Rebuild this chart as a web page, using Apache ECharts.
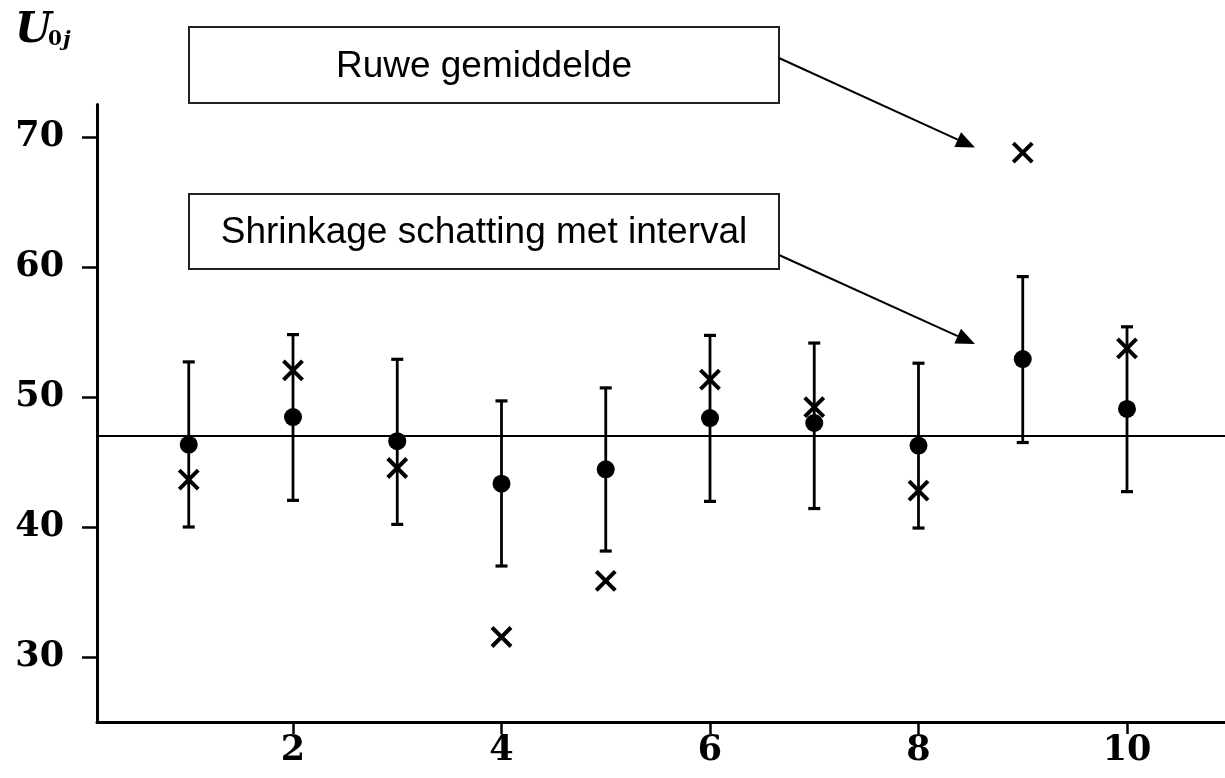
<!DOCTYPE html>
<html><head><meta charset="utf-8">
<script src="https://cdn.jsdelivr.net/npm/echarts@6/dist/echarts.min.js"></script>
<style>html,body{margin:0;padding:0;background:#fff}#c{width:1225px;height:778px}</style>
</head><body><div id="c"></div>
<script>
// ---- data ----
const groups    = [1, 2, 3, 4, 5, 6, 7, 8, 9, 10];
const shrinkage = [46.33, 48.46, 46.6, 43.33, 44.44, 48.38, 48.0, 46.26, 52.92, 49.08];
const rawMeans  = [43.64, 52.05, 44.54, 31.54, 35.85, 51.33, 49.22, 42.8, 68.8, 53.74];
const lowerCI   = [40.0, 42.05, 40.2, 37.0, 38.15, 41.97, 41.42, 39.92, 46.5, 42.72];
const upperCI   = [52.7, 54.8, 52.9, 49.7, 50.7, 54.74, 54.15, 52.6, 59.26, 55.4];
const grandMean = 47.0;
const xTicks = [2, 4, 6, 8, 10];
const yTicks = [30, 40, 50, 60, 70];
const labelRaw = 'Ruwe gemiddelde';
const labelShrink = 'Shrinkage schatting met interval';

const chart = echarts.init(document.getElementById('c'), null, {renderer: 'canvas'});
const tickFont = {fontFamily: 'DejaVu Serif', fontWeight: 'bold', fontSize: 35, color: '#000'};

function arrow(x1, y1, x2, y2) {
  const dx = x2 - x1, dy = y2 - y1, L = Math.hypot(dx, dy), ux = dx / L, uy = dy / L;
  const hl = 19, hw = 8;
  const bx = x2 - ux * hl, by = y2 - uy * hl;
  return [
    {type: 'line', shape: {x1: x1, y1: y1, x2: bx, y2: by}, style: {stroke: '#000', lineWidth: 2}},
    {type: 'polygon', shape: {points: [[x2, y2], [bx - uy * hw, by + ux * hw], [bx + uy * hw, by - ux * hw]]}, style: {fill: '#000'}}
  ];
}

function renderErr(params, api) {
  const x = api.value(0);
  const lo = api.coord([x, api.value(1)]);
  const hi = api.coord([x, api.value(2)]);
  const w = 6;
  const style = {stroke: '#000', lineWidth: 2.8};
  const cap = {stroke: '#000', lineWidth: 3.2};
  return {type: 'group', children: [
    {type: 'line', shape: {x1: lo[0], y1: lo[1], x2: hi[0], y2: hi[1]}, style: style},
    {type: 'line', shape: {x1: hi[0] - w, y1: hi[1], x2: hi[0] + w, y2: hi[1]}, style: cap},
    {type: 'line', shape: {x1: lo[0] - w, y1: lo[1], x2: lo[0] + w, y2: lo[1]}, style: cap}
  ]};
}

const option = {
  animation: false,
  backgroundColor: '#fff',
  grid: {left: 97, right: 0, top: 104.5, bottom: 56, outerBoundsMode: 'none'},
  xAxis: {
    type: 'value', min: 0.12, max: 10.94,
    splitLine: {show: false},
    axisLine: {onZero: false, lineStyle: {color: '#000', width: 3}},
    axisTick: {customValues: xTicks, length: 12, lineStyle: {color: '#000', width: 2.5}},
    axisLabel: Object.assign({customValues: xTicks, margin: 11}, tickFont)
  },
  yAxis: {
    type: 'value', min: 25, max: 72.5,
    splitLine: {show: false},
    axisLine: {show: true, onZero: false, lineStyle: {color: '#000', width: 3}},
    axisTick: {show: true, customValues: yTicks, length: 15, lineStyle: {color: '#000', width: 2.5}},
    axisLabel: Object.assign({customValues: yTicks, margin: 33, padding: [7, 0, 0, 0]}, tickFont)
  },
  series: [
    {
      type: 'custom', renderItem: renderErr, z: 2,
      encode: {x: 0, y: [1, 2]},
      data: groups.map((g, i) => [g, lowerCI[i], upperCI[i]]),
      markLine: {
        silent: true, symbol: 'none', label: {show: false},
        lineStyle: {color: '#000', width: 2, type: 'solid', opacity: 1},
        data: [{yAxis: grandMean}]
      }
    },
    {
      type: 'scatter', z: 3, symbol: 'circle', symbolSize: 18,
      itemStyle: {color: '#000', opacity: 1},
      data: groups.map((g, i) => [g, shrinkage[i]])
    },
    {
      type: 'scatter', z: 4, symbol: 'path://M0,0L10,10M10,0L0,10', symbolSize: 19,
      itemStyle: {color: 'none', borderColor: '#000', borderWidth: 4, opacity: 1},
      data: groups.map((g, i) => [g, rawMeans[i]])
    }
  ],
  graphic: [
    {type: 'text', left: 15, top: 10, style: {text: 'U', font: 'italic bold 42px "DejaVu Serif"', fill: '#000'}},
    {type: 'text', left: 48, top: 30, style: {text: '0', font: 'bold 20px "DejaVu Serif"', fill: '#000'}},
    {type: 'text', left: 63, top: 30, style: {text: 'j', font: 'italic bold 21px "DejaVu Serif"', fill: '#000'}},
    {type: 'rect', shape: {x: 189, y: 27, width: 590, height: 76}, style: {fill: '#fff', stroke: '#222', lineWidth: 2}},
    {type: 'text', x: 484, y: 67, style: {text: labelRaw, font: '37px "Liberation Sans"', fill: '#000', align: 'center', verticalAlign: 'middle'}},
    {type: 'rect', shape: {x: 189, y: 194, width: 590, height: 75}, style: {fill: '#fff', stroke: '#222', lineWidth: 2}},
    {type: 'text', x: 484, y: 233, style: {text: labelShrink, font: '37px "Liberation Sans"', fill: '#000', align: 'center', verticalAlign: 'middle'}}
  ].concat(arrow(779, 58, 975, 147.5)).concat(arrow(779, 255, 975, 344))
};
chart.setOption(option);
</script>
</body></html>
